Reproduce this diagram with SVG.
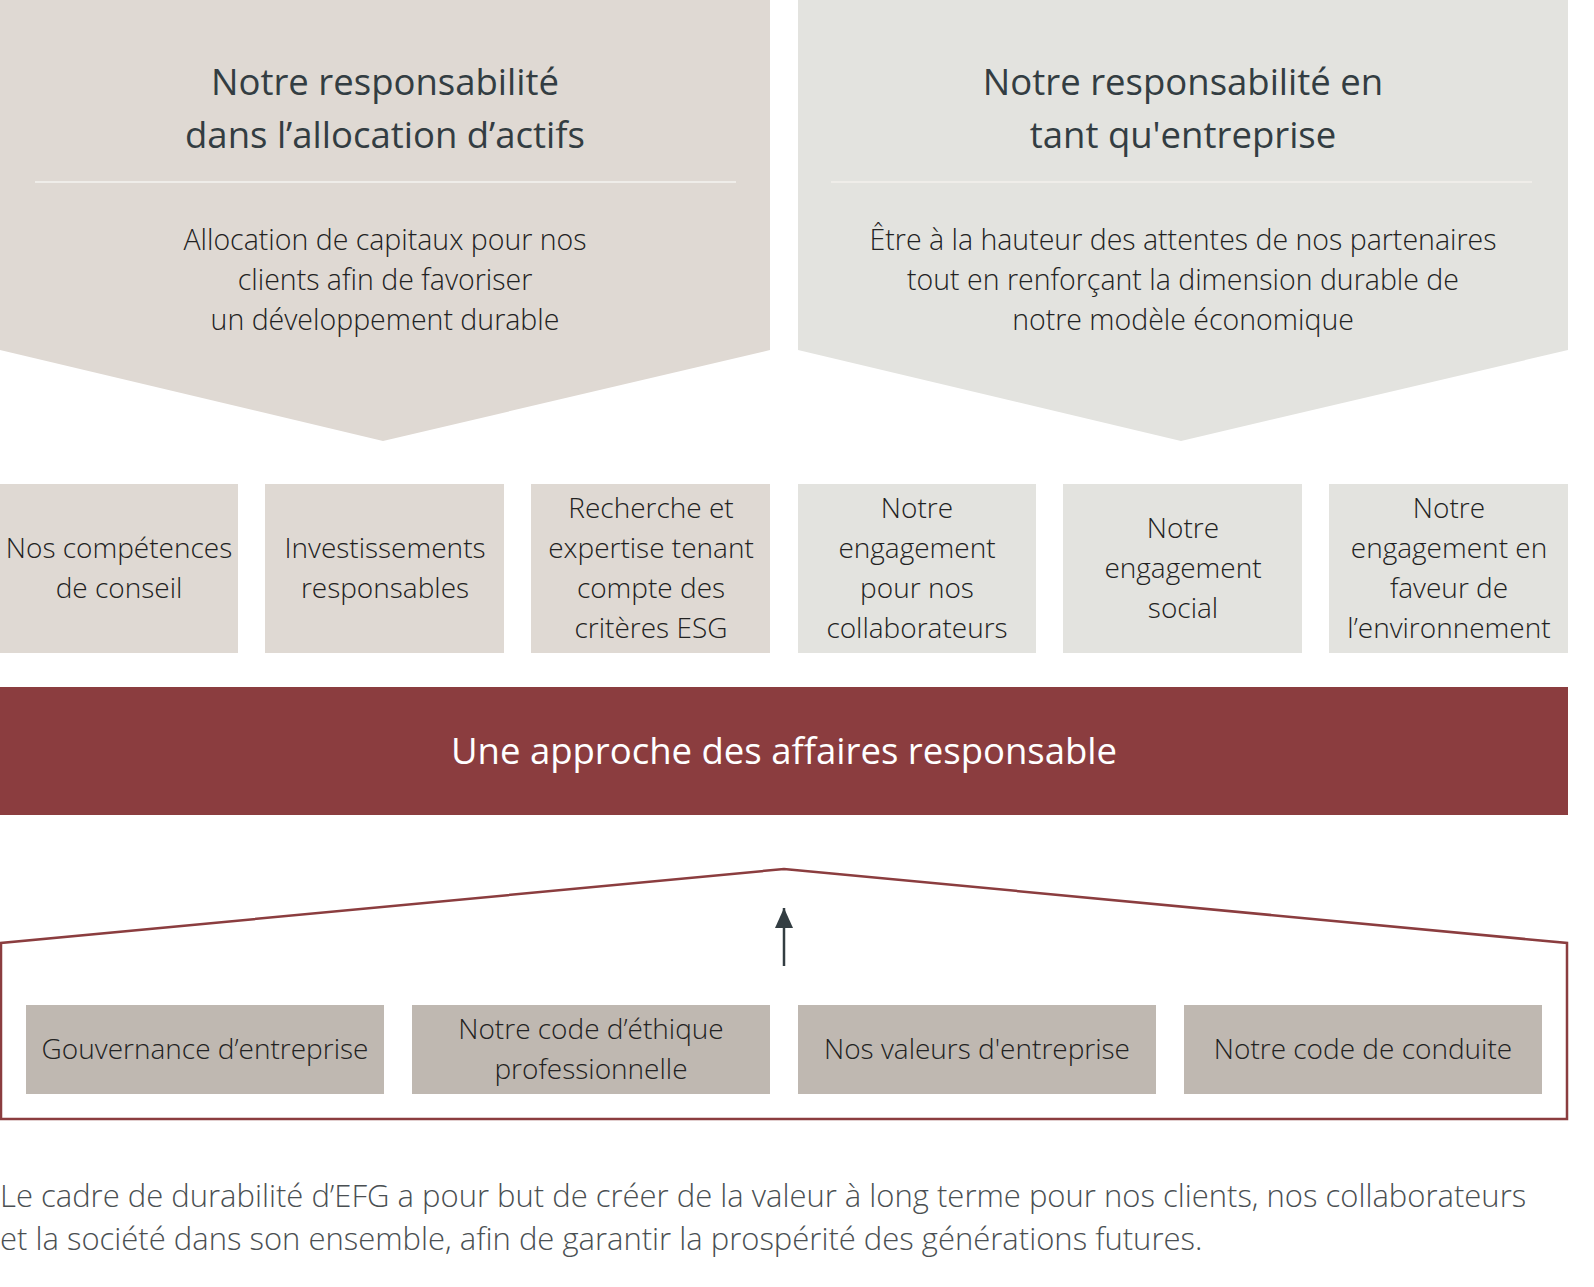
<svg xmlns="http://www.w3.org/2000/svg" width="1594" height="1287" viewBox="0 0 1594 1287">
<style>
  .t { font-family: "Open Sans", "Noto Sans", "Liberation Sans", sans-serif; text-anchor: middle; }
  .title { font-size: 36.5px; fill: #333d42; font-weight: 400; }
  .sub { font-size: 28.5px; fill: #222222; font-weight: 300; }
  .box { font-size: 28px; fill: #222222; font-weight: 300; }
  .banner { font-size: 36.5px; fill: #ffffff; font-weight: 400; }
  .cap { font-family: "Open Sans", "Noto Sans", "Liberation Sans", sans-serif; font-size: 31px; fill: #4a4f52; font-weight: 300; }
  .warm { fill: #dfd9d3; }
  .cool { fill: #e3e3df; }
  .base { fill: #bfb8b1; }
  .rule { stroke: #efede9; stroke-width: 2; }
</style>
<defs>
  <marker id="arr" viewBox="0 0 20 18" refX="20" refY="9" markerWidth="20" markerHeight="18" markerUnits="userSpaceOnUse" orient="auto">
    <path d="M0,0 L20,9 L0,18 z" fill="#333d42"/>
  </marker>
</defs>
<rect width="1594" height="1287" fill="#ffffff"/>

<g id="chevron-left">
  <polygon class="warm" points="0,0 770,0 770,350 383,441 0,350"/>
  <line class="rule" x1="35" y1="182" x2="736" y2="182"/>
  <text class="t title" x="385" y="95">Notre responsabilité</text>
  <text class="t title" x="385" y="148">dans l’allocation d’actifs</text>
  <text class="t sub" x="385" y="250">Allocation de capitaux pour nos</text>
  <text class="t sub" x="385" y="290">clients afin de favoriser</text>
  <text class="t sub" x="385" y="330">un développement durable</text>
</g>

<g id="chevron-right">
  <polygon class="cool" points="798,0 1568,0 1568,350 1181,441 798,350"/>
  <line class="rule" x1="831" y1="182" x2="1532" y2="182"/>
  <text class="t title" x="1183" y="95">Notre responsabilité en</text>
  <text class="t title" x="1183" y="148">tant qu'entreprise</text>
  <text class="t sub" x="1183" y="250">Être à la hauteur des attentes de nos partenaires</text>
  <text class="t sub" x="1183" y="290">tout en renforçant la dimension durable de</text>
  <text class="t sub" x="1183" y="330">notre modèle économique</text>
</g>

<g id="box-conseil">
  <rect class="warm" x="0" y="484" width="238" height="169"/>
  <text class="t box" x="119" y="558">Nos compétences</text>
  <text class="t box" x="119" y="598">de conseil</text>
</g>
<g id="box-investissements">
  <rect class="warm" x="265" y="484" width="239" height="169"/>
  <text class="t box" x="385" y="558">Investissements</text>
  <text class="t box" x="385" y="598">responsables</text>
</g>
<g id="box-recherche">
  <rect class="warm" x="531" y="484" width="239" height="169"/>
  <text class="t box" x="651" y="518">Recherche et</text>
  <text class="t box" x="651" y="558">expertise tenant</text>
  <text class="t box" x="651" y="598">compte des</text>
  <text class="t box" x="651" y="638">critères ESG</text>
</g>
<g id="box-collaborateurs">
  <rect class="cool" x="798" y="484" width="238" height="169"/>
  <text class="t box" x="917" y="518">Notre</text>
  <text class="t box" x="917" y="558">engagement</text>
  <text class="t box" x="917" y="598">pour nos</text>
  <text class="t box" x="917" y="638">collaborateurs</text>
</g>
<g id="box-social">
  <rect class="cool" x="1063" y="484" width="239" height="169"/>
  <text class="t box" x="1183" y="538">Notre</text>
  <text class="t box" x="1183" y="578">engagement</text>
  <text class="t box" x="1183" y="618">social</text>
</g>
<g id="box-environnement">
  <rect class="cool" x="1329" y="484" width="239" height="169"/>
  <text class="t box" x="1449" y="518">Notre</text>
  <text class="t box" x="1449" y="558">engagement en</text>
  <text class="t box" x="1449" y="598">faveur de</text>
  <text class="t box" x="1449" y="638">l’environnement</text>
</g>

<g id="banner">
  <rect x="0" y="687" width="1568" height="128" fill="#8b3d3f"/>
  <text class="t banner" x="784" y="764">Une approche des affaires responsable</text>
</g>

<g id="house">
  <polygon points="1,1119 1,943 784,869 1567,943 1567,1119" fill="none" stroke="#8b3d3f" stroke-width="2.5"/>
</g>

<g id="connectors">
  <line x1="784" y1="966" x2="784" y2="908" stroke="#333d42" stroke-width="2.5" marker-end="url(#arr)"/>
</g>

<g id="base-gouvernance">
  <rect class="base" x="26" y="1005" width="358" height="89"/>
  <text class="t box" x="205" y="1059">Gouvernance d’entreprise</text>
</g>
<g id="base-ethique">
  <rect class="base" x="412" y="1005" width="358" height="89"/>
  <text class="t box" x="591" y="1039">Notre code d’éthique</text>
  <text class="t box" x="591" y="1079">professionnelle</text>
</g>
<g id="base-valeurs">
  <rect class="base" x="798" y="1005" width="358" height="89"/>
  <text class="t box" x="977" y="1059">Nos valeurs d'entreprise</text>
</g>
<g id="base-conduite">
  <rect class="base" x="1184" y="1005" width="358" height="89"/>
  <text class="t box" x="1363" y="1059">Notre code de conduite</text>
</g>

<g id="caption">
  <text class="cap" x="0" y="1207">Le cadre de durabilité d’EFG a pour but de créer de la valeur à long terme pour nos clients, nos collaborateurs</text>
  <text class="cap" x="0" y="1250">et la société dans son ensemble, afin de garantir la prospérité des générations futures.</text>
</g>
</svg>
